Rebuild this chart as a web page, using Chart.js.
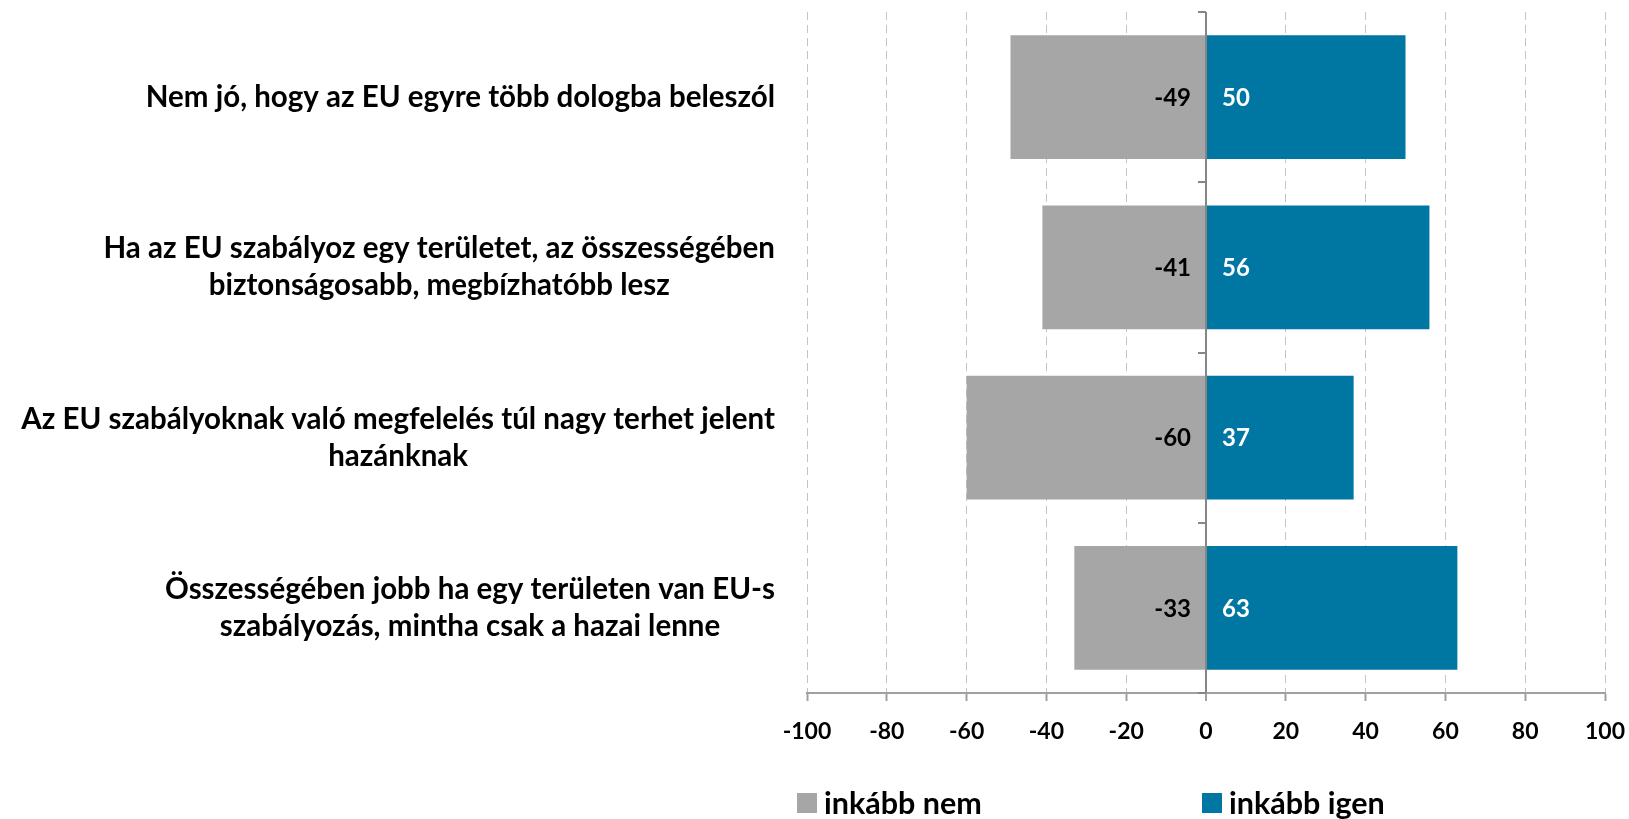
<!DOCTYPE html>
<html><head><meta charset="utf-8">
<script src="https://cdn.jsdelivr.net/npm/chart.js@4.4.1/dist/chart.umd.min.js"></script>
<style>html,body{margin:0;padding:0;background:#fff;overflow:hidden}#wrap{width:1629px;height:819px;position:relative}</style>
</head><body><div id="wrap"><canvas id="c" width="1629" height="819"></canvas></div>
<script>
// ---- data ----
const categories = [
  ["Nem jó, hogy az EU egyre több dologba beleszól"],
  ["Ha az EU szabályoz egy területet, az összességében", "biztonságosabb, megbízhatóbb lesz"],
  ["Az EU szabályoknak való megfelelés túl nagy terhet jelent", "hazánknak"],
  ["Összességében jobb ha egy területen van EU-s", "szabályozás, mintha csak a hazai lenne"]
];
const seriesNames = ["inkább nem", "inkább igen"];
const noValues = [-49, -41, -60, -33];
const yesValues = [50, 56, 37, 63];
const xTickValues = [-100, -80, -60, -40, -20, 0, 20, 40, 60, 80, 100];

// ---- style ----
const FONT = "Lato";
const GREY = "#a6a6a6";
const BLUE = "#0076a3";

const customPlugin = {
  id: 'custom',
  afterDatasetsDraw(chart) {
    const ctx = chart.ctx;
    const xs = chart.scales.x, ys = chart.scales.y;
    const area = chart.chartArea;
    const zero = xs.getPixelForValue(0);
    ctx.save();
    ctx.strokeStyle = '#868686';
    ctx.lineWidth = 2;
    ctx.beginPath(); ctx.moveTo(zero, area.top); ctx.lineTo(zero, area.bottom); ctx.stroke();
    for (let i = 0; i <= categories.length; i++) {
      const py = Math.round(ys.getPixelForValue(i - 0.5));
      ctx.beginPath(); ctx.moveTo(zero - 8, py); ctx.lineTo(zero, py); ctx.stroke();
    }
    ctx.font = "bold 24px " + FONT;
    ctx.textBaseline = 'middle';
    chart.data.datasets.forEach((ds, d) => {
      const meta = chart.getDatasetMeta(d);
      meta.data.forEach((bar, i) => {
        const v = ds.data[i];
        if (v < 0) {
          ctx.fillStyle = '#000';
          ctx.textAlign = 'right';
          ctx.fillText(String(v), zero - 15, bar.y + 1);
        } else {
          ctx.fillStyle = '#fff';
          ctx.textAlign = 'left';
          ctx.fillText(String(v), zero + 16, bar.y + 1);
        }
      });
    });
    ctx.restore();
  },
  afterDraw(chart) {
    const ctx = chart.ctx;
    const xs = chart.scales.x, ys = chart.scales.y;
    const area = chart.chartArea;
    ctx.save();
    ctx.font = "bold 29.5px " + FONT;
    ctx.fillStyle = '#000';
    ctx.textBaseline = 'middle';
    ctx.textAlign = 'center';
    const lh = 37;
    categories.forEach((lines, i) => {
      const bw = Math.max(...lines.map(l => ctx.measureText(l).width));
      const cx = area.left - 32 - bw / 2;
      const cy = ys.getPixelForValue(i);
      lines.forEach((l, k) => {
        ctx.fillText(l, cx, cy + (k - (lines.length - 1) / 2) * lh);
      });
    });
    ctx.font = "bold 30.5px " + FONT;
    ctx.textAlign = 'left';
    const ly = 803;
    const starts = [xs.getPixelForValue(-100) - 10, xs.getPixelForValue(0) - 4];
    chart.data.datasets.forEach((ds, d) => {
      const sx = starts[d];
      ctx.fillStyle = ds.backgroundColor;
      ctx.fillRect(sx, ly - 10, 20, 20);
      ctx.fillStyle = '#000';
      ctx.fillText(ds.label, sx + 27, ly + 1);
    });
    ctx.restore();
  }
};

new Chart(document.getElementById('c'), {
  type: 'bar',
  data: {
    labels: categories,
    datasets: [
      { label: seriesNames[0], data: noValues, backgroundColor: GREY, stack: 's' },
      { label: seriesNames[1], data: yesValues, backgroundColor: BLUE, stack: 's' }
    ]
  },
  options: {
    indexAxis: 'y',
    responsive: false,
    animation: false,
    devicePixelRatio: 1,
    layout: { padding: { left: 807, right: 24, top: 12, bottom: 0 } },
    datasets: { bar: { categoryPercentage: 1, barPercentage: 0.727 } },
    plugins: { legend: { display: false }, tooltip: { enabled: false } },
    scales: {
      y: { type: 'category', stacked: true, display: false },
      x: {
        type: 'linear', stacked: true, min: -100, max: 100,
        afterFit(scale) { scale.height = 126; scale.paddingLeft = 0; scale.paddingRight = 0; },
        afterBuildTicks(scale) { scale.ticks = xTickValues.map(v => ({ value: v })); },
        ticks: { font: { family: FONT, size: 23, weight: 'bold' }, color: '#000', padding: 17, maxRotation: 0, autoSkip: false },
        grid: {
          color: c => (c.tick && c.tick.value === 0) ? '#868686' : '#c4c4c4',
          lineWidth: c => (c.tick && c.tick.value === 0) ? 2 : 1,
          tickColor: '#a0a0a0', tickWidth: 2, tickLength: 8, tickBorderDash: [], drawTicks: true
        },
        border: { display: true, color: '#a0a0a0', width: 2, dash: c => (c.tick && c.tick.value !== 0) ? [8, 5] : [] }
      }
    }
  },
  plugins: [customPlugin]
});
</script></body></html>
